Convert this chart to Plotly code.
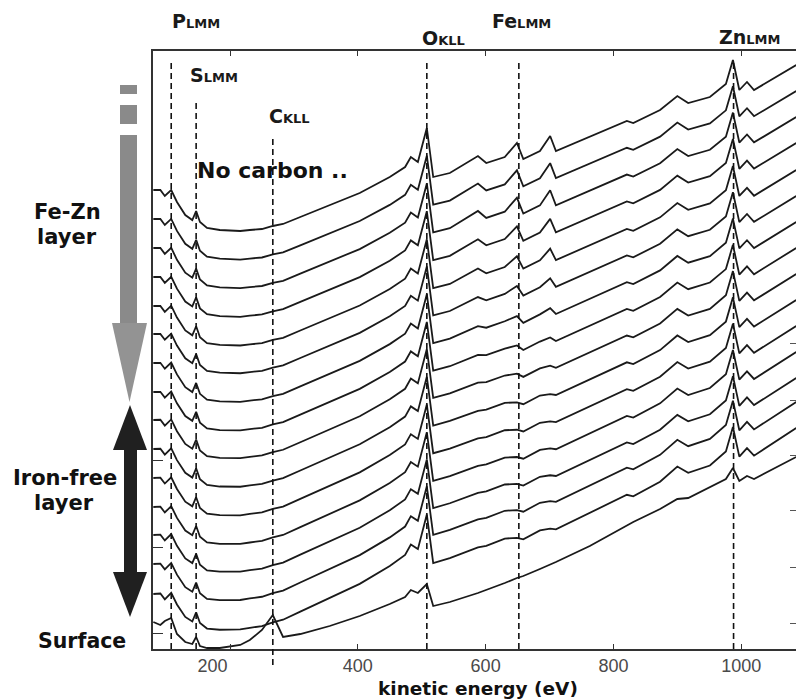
import plotly.graph_objects as go

# ---------------- data ----------------
energy = [80, 91, 98, 108, 117, 130, 141, 147, 153, 164,
          184, 216, 231, 250, 267, 283, 310, 356, 403, 450,
          474, 483, 494, 508, 518, 544, 588, 601, 630, 649,
          659, 685, 701, 710, 763, 821, 831, 873, 900, 917,
          951, 976, 987, 997, 1009, 1020, 1086]

# deepest spectrum (top trace, Fe-Zn layer), intensity in arb. units
fezn_top = [459, 459, 453, 459, 447, 434, 429, 438, 427, 421,
            419, 418, 419, 420, 423, 425, 432, 444, 456, 472,
            482, 492, 487, 521, 472, 476, 493, 486, 492, 506,
            490, 498, 513, 498, 512, 528, 526, 539, 553, 546,
            552, 565, 589, 559, 567, 559, 584]

# Fe-related features contained in the top spectrum
fe_peaks = [0, 0, 0, 0, 0, 0, 0, 0, 0, 0,
            0, 0, 0, 0, 0, 0, 0, 0, 0, 0,
            0, 0, 0, 0, 0, 0, 8, 0, 0, 14,
            0, 0, 14, 0, 0, 0, 0, 0, 0, 0,
            0, 0, 0, 0, 0, 0, 0]

# surface spectrum (bottom trace, with carbon)
surface = [27, 24, 28, 31, 15, 7, 5, 12, 3, 1,
           1, 4, 9, 19, 34, 12, 15, 23, 33, 45,
           52, 59, 56, 65, 43, 47, 56, 59, 66, 71,
           73, 80, 84, 87, 103, 124, 127, 140, 150, 151,
           162, 170, 181, 168, 173, 170, 192]

# per-spectrum level at low and high energy end (top -> bottom, without surface)
left_level = [459, 430, 401, 372, 343, 315, 286, 257, 229, 200, 171, 142, 114, 85, 55]
right_level = [584, 558, 532, 506, 479, 453, 427, 401, 375, 349, 323, 297, 271, 247, 221]
fe_strength = [1.0, 1.0, 1.0, 0.9, 0.75, 0.55, 0.35, 0.2, 0.1, 0, 0, 0, 0, 0, 0]

peak_energy = [108, 147, 267, 508, 652, 988]
peak_element = ["P", "S", "C", "O", "Fe", "Zn"]
peak_transition = ["LMM", "LMM", "KLL", "KLL", "LMM", "LMM"]

x_ticks = [200, 400, 600, 800, 1000]
x_tick_text = ["200", "400", "600", "800", "1000"]

# ---------------- figure ----------------
W, H = 796, 699
L, R, T, B = 153, 796, 51, 649
XMIN, XMAX = 79.5, 1085.7
YMAX = B - T


def px(xp):
    return (xp - L) / (R - L)


def py(yp):
    return (B - yp) / (B - T)


fig = go.Figure()
line_style = dict(color="#1a1a1a", width=1.8)

base = [t - f for t, f in zip(fezn_top, fe_peaks)]
E0, E1 = energy[0], energy[-1]
for lv, rv, fs in zip(left_level, right_level, fe_strength):
    ys = []
    for e, b, f in zip(energy, base, fe_peaks):
        w = (e - E0) / (E1 - E0)
        drop = (fezn_top[0] - lv) * (1 - w) + (fezn_top[-1] - rv) * w
        ys.append(b + fs * f - drop)
    fig.add_trace(go.Scatter(x=energy, y=ys, mode="lines", line=line_style,
                             showlegend=False, hoverinfo="skip"))

fig.add_trace(go.Scatter(x=energy, y=surface, mode="lines", line=line_style,
                         showlegend=False, hoverinfo="skip"))

# invisible trace for the right-hand tick axis
fig.add_trace(go.Scatter(x=[E0], y=[0], yaxis="y2", mode="markers",
                         marker=dict(opacity=0), showlegend=False, hoverinfo="skip"))

shapes = []
# dashed marker lines
line_top = [60, 100, 135, 60, 60, 60]
line_bot = [649, 649, 665, 649, 649, 649]
for e, t0, b0 in zip(peak_energy, line_top, line_bot):
    shapes.append(dict(type="line", xref="x", yref="paper", x0=e, x1=e,
                       y0=py(b0), y1=py(t0),
                       line=dict(color="#111", width=1.6, dash="6px,4px")))

# label positions (left edge px, centre px)
label_pos = [(170, 21), (188, 75), (267, 116), (420, 38), (490, 21), (717, 37)]
annotations = []
for el, tr, (lx, ly) in zip(peak_element, peak_transition, label_pos):
    annotations.append(dict(
        xref="paper", yref="paper", x=px(lx), y=py(ly), xanchor="left", yanchor="middle",
        text=f"{el}<span style='font-size:13px'>{tr}</span>", showarrow=False,
        font=dict(family="DejaVu Sans", size=19, color="#1a1a1a", weight="bold")))

for txt, cx, cy, fs in [("Fe-Zn", 67, 212, 21), ("layer", 67, 237, 21),
                        ("Iron-free", 65, 478, 21), ("layer", 64, 503, 21),
                        ("Surface", 82, 641, 20.5), ("No carbon ..", 272, 170, 22)]:
    annotations.append(dict(xref="paper", yref="paper", x=px(cx), y=py(cy),
                            xanchor="center", yanchor="middle", text=txt, showarrow=False,
                            font=dict(family="DejaVu Sans", size=fs, color="#111", weight="bold")))

annotations.append(dict(xref="paper", yref="paper", x=px(478), y=py(688),
                        xanchor="center", yanchor="middle", text="kinetic energy (eV)",
                        showarrow=False,
                        font=dict(family="DejaVu Sans", size=18.5, color="#111", weight="bold")))


def rect(x0, y0, x1, y1, color):
    return dict(type="rect", xref="paper", yref="paper", x0=px(x0), x1=px(x1),
                y0=py(y1), y1=py(y0), fillcolor=color, line=dict(width=0), layer="above")


def tri(pts, color):
    d = "M " + " L ".join(f"{px(a)},{py(b)}" for a, b in pts) + " Z"
    return dict(type="path", xref="paper", yref="paper", path=d,
                fillcolor=color, line=dict(width=0), layer="above")


gray = "#8a8a8a"
shapes += [rect(120, 85, 137, 94, gray), rect(120, 105, 137, 124, gray),
           rect(120, 135, 137, 324, gray),
           tri([(112, 323), (147, 323), (129.5, 402)], "#939393")]
dark = "#202020"
shapes += [tri([(113, 450), (147, 450), (130, 405)], dark),
           rect(124, 449, 137, 573, dark),
           tri([(113, 572), (147, 572), (130, 617)], dark)]

# first tick label sits left of its tick in the original
tick_text = [x_tick_text[0] + "\u00a0" * 7] + x_tick_text[1:]

fig.update_layout(
    width=W, height=H,
    margin=dict(l=L, r=W - R, t=T, b=H - B, pad=0),
    paper_bgcolor="white", plot_bgcolor="white",
    shapes=shapes, annotations=annotations,
    xaxis=dict(range=[XMIN, XMAX], tickvals=x_ticks, ticktext=tick_text,
               ticks="inside", ticklen=5,
               tickcolor="#333", showline=True, linecolor="#333", linewidth=1.5,
               mirror="ticks", showgrid=False, zeroline=False,
               tickfont=dict(family="Liberation Sans", size=18, color="#4a4a4a")),
    yaxis=dict(range=[0, YMAX], tickvals=[16, 102, 189], ticks="inside", ticklen=10,
               tickcolor="#333", showline=True, linecolor="#333", linewidth=1.5,
               showticklabels=False, showgrid=False, zeroline=False),
    yaxis2=dict(range=[0, YMAX], overlaying="y", side="right", tickvals=[26, 82, 139, 194, 249, 306],
                ticks="inside", ticklen=6, tickcolor="#555", showline=False,
                showticklabels=False, showgrid=False, zeroline=False),
)

fig.write_html("out.html")
